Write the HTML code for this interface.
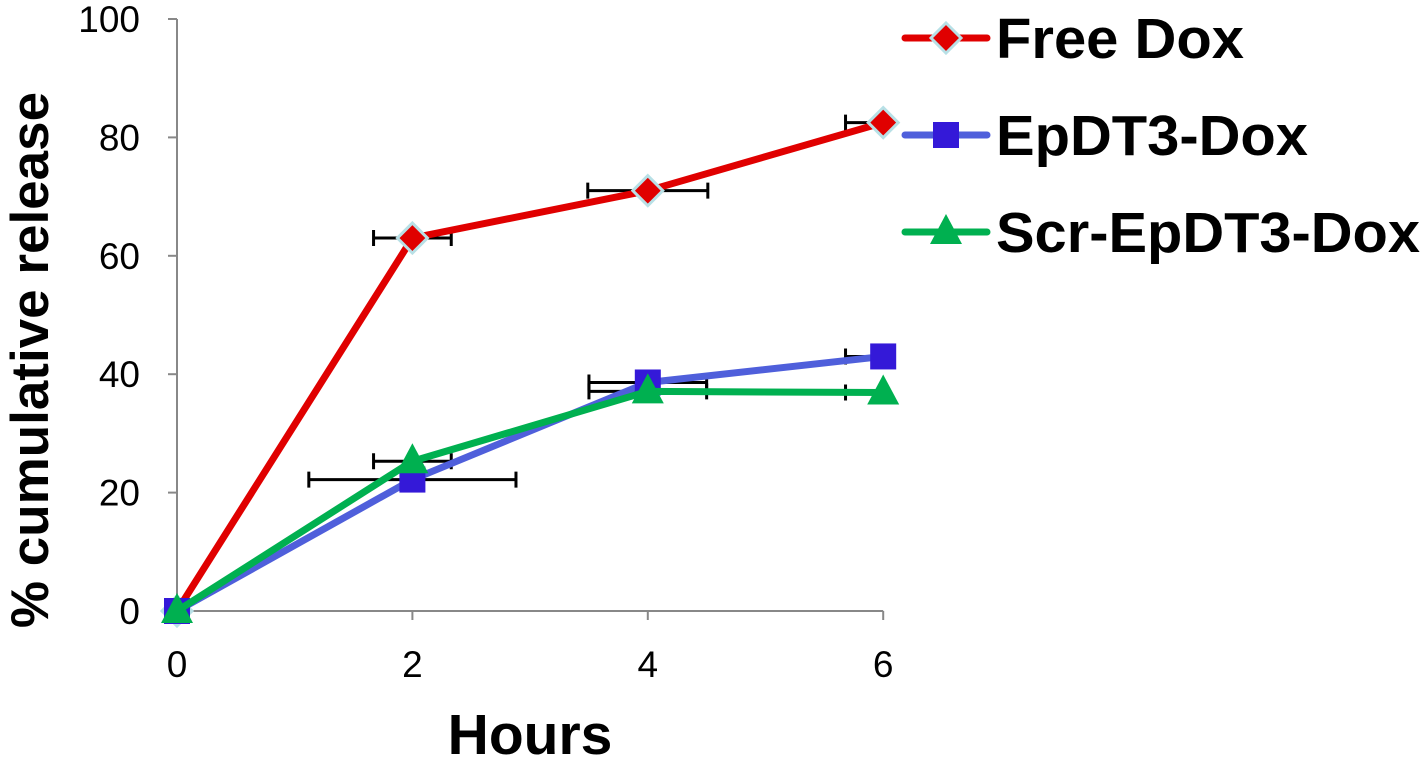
<!DOCTYPE html>
<html><head><meta charset="utf-8"><style>
html,body{margin:0;padding:0;background:#fff;}
svg{display:block;font-family:"Liberation Sans",Arial,sans-serif;}
</style></head><body>
<svg id="chart" width="1424" height="760" viewBox="0 0 1424 760">
<defs><clipPath id="pc"><rect x="150" y="0" width="734" height="640"/></clipPath></defs>
<g id="axes"></g>
<g id="errs" clip-path="url(#pc)"></g>
<g id="series"></g>
<g id="legend"></g>
</svg>
<script>
const hours=[0,2,4,6];
const freeDox=[0,63,71,82.5];
const epdt3=[0,22.2,38.6,43];
const scr=[0,25.3,37.1,36.9];
const freeErr=[0,0.33,0.51,0.32];
const epdt3Err=[0,0.88,0.5,0.32];
const scrErr=[0,0.33,0.5,0.32];
const yTicks=[0,20,40,60,80,100];
const xTicks=[0,2,4,6];
const names=["Free Dox","EpDT3-Dox","Scr-EpDT3-Dox"];
const NS="http://www.w3.org/2000/svg";
const X=v=>177+v*117.7, Y=v=>611-v*5.92;
function mk(tag,attrs,parent,txt){const e=document.createElementNS(NS,tag);for(const k in attrs)e.setAttribute(k,attrs[k]);if(txt!=null)e.textContent=txt;parent.appendChild(e);return e;}
const ax=document.getElementById('axes');
let e=mk('line',{x1:X(0),y1:Y(0),x2:X(0),y2:Y(100),stroke:'#888','stroke-width':2},ax);

e=mk('line',{x1:X(0),y1:Y(0),x2:X(6),y2:Y(0),stroke:'#888','stroke-width':2},ax);

yTicks.forEach(t=>{mk('line',{x1:X(0)-9,x2:X(0),y1:Y(t),y2:Y(t),stroke:'#888','stroke-width':2},ax);
 e=mk('text',{x:140,y:Y(t)+13,'text-anchor':'end','font-size':37},ax,t);
 });
xTicks.forEach(t=>{mk('line',{x1:X(t),x2:X(t),y1:Y(0),y2:Y(0)+9,stroke:'#888','stroke-width':2},ax);
 e=mk('text',{x:X(t),y:Y(0)+66,'text-anchor':'middle','font-size':37},ax,t);
 });
e=mk('text',{x:530,y:754,'text-anchor':'middle','font-size':57,'font-weight':'bold'},ax,'Hours');

e=mk('text',{x:48,y:360,'text-anchor':'middle','font-size':53,'font-weight':'bold',transform:'rotate(-90 48 360)'},ax,'% cumulative release');

const eg=document.getElementById('errs');
[[freeDox,freeErr],[epdt3,epdt3Err],[scr,scrErr]].forEach(([s,er])=>{
 hours.forEach((h,i)=>{if(!er[i])return;const y=Y(s[i]),a=X(h-er[i]),b=X(h+er[i]);
  e=mk('path',{d:`M${a},${y}H${b}M${a},${y-8}V${y+8}M${b},${y-8}V${y+8}`,stroke:'#000','stroke-width':3,fill:'none'},eg);
  });});
const sg=document.getElementById('series');
function marker(kind,x,y,g){
 if(kind==0)return mk('path',{d:`M${x},${y-15}L${x+15},${y}L${x},${y+15}L${x-15},${y}Z`,fill:'#e00000',stroke:'#b8e0e6','stroke-width':3},g);
 if(kind==1)return mk('rect',{x:x-13,y:y-13,width:26,height:26,fill:'#3419d8'},g);
 return mk('path',{d:`M${x},${y-18}L${x+16},${y+12}L${x-16},${y+12}Z`,fill:'#00b050'},g);
}
const cols=['#e00000','#4f5fdb','#00b050'];
[freeDox,epdt3,scr].forEach((s,k)=>{
 const g=mk('g',{},sg);
 
 
 e=mk('polyline',{points:hours.map((h,i)=>X(h)+','+Y(s[i])).join(' '),fill:'none',stroke:cols[k],'stroke-width':7,'stroke-linejoin':'round'},g);
 
 hours.forEach((h,i)=>{e=marker(k,X(h),Y(s[i]),g);
  });
});
const lg=document.getElementById('legend');
names.forEach((n,k)=>{const y=38+k*97;
 const g=mk('g',{},lg);
 
 mk('line',{x1:905,x2:987,y1:y,y2:y,stroke:cols[k],'stroke-width':7,'stroke-linecap':'round'},g);
 marker(k,946,y,g);
 mk('text',{x:996,y:y+20,'font-size':57,'font-weight':'bold',textLength:[248,312,424][k],lengthAdjust:'spacingAndGlyphs'},g,n);
});
</script>
</body></html>
